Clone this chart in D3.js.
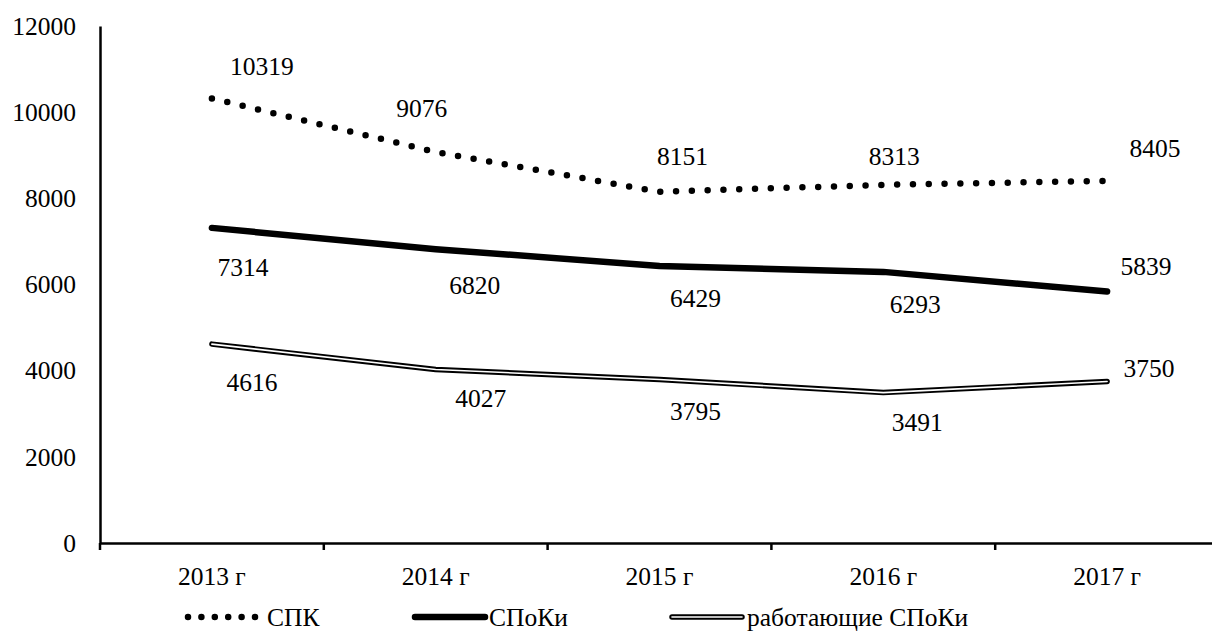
<!DOCTYPE html>
<html>
<head>
<meta charset="utf-8">
<script src="https://cdn.jsdelivr.net/npm/d3@7"></script>
<style>
  html, body { margin: 0; padding: 0; background: #fff; }
  svg { display: block; }
  text { font-family: "Liberation Serif", "Times New Roman", serif; font-size: 25.5px; fill: #000; }
</style>
</head>
<body>
<svg id="chart" width="1212" height="633"></svg>
<script>
// Categories and series values
const years = ["2013 г", "2014 г", "2015 г", "2016 г", "2017 г"];
const spk = [10319, 9076, 8151, 8313, 8405];
const spoki = [7314, 6820, 6429, 6293, 5839];
const workingSpoki = [4616, 4027, 3795, 3491, 3750];
const yTicks = [0, 2000, 4000, 6000, 8000, 10000, 12000];
const seriesNames = ["СПК", "СПоКи", "работающие СПоКи"];

// Data-label offsets from each point (layout only)
const labelOffsets = [
  [[50, -32], [-14, -44], [23, -36], [11, -29], [48, -33]],
  [[31, 39], [39, 36], [36, 32], [32, 32], [39, -25]],
  [[40, 38], [45, 28.5], [36, 31.5], [34, 29], [42, -13.5]]
];

const svg = d3.select("#chart");

const x = d3.scaleBand().domain(years).range([100, 1219]).paddingInner(0).paddingOuter(0);
const y = d3.scaleLinear().domain([0, 12000]).range([543, 26]);
const cx = i => x(years[i]) + x.bandwidth() / 2;

// Y axis
const yAxis = svg.append("g")
  .attr("transform", "translate(100,0)")
  .call(d3.axisLeft(y).tickValues(yTicks).tickFormat(d3.format("d")).tickSize(0).tickPadding(24));
yAxis.select(".domain").attr("stroke", "#000").attr("stroke-width", 2.5);
yAxis.selectAll("text").attr("font-family", null).attr("font-size", null);

// X axis with labels centered in each band
const xAxis = svg.append("g")
  .attr("transform", "translate(0,543)")
  .call(d3.axisBottom(x).tickSize(0).tickSizeOuter(0).tickPadding(24));
xAxis.select(".domain").attr("stroke", "#000").attr("stroke-width", 2.5);
xAxis.selectAll("text").attr("font-family", null).attr("font-size", null);

// Tick marks at band boundaries
const boundaries = years.map(d => x(d)).concat([x(years[years.length - 1]) + x.bandwidth()]);
svg.append("g").selectAll("line").data(boundaries).join("line")
  .attr("x1", d => d).attr("x2", d => d)
  .attr("y1", 543).attr("y2", 550)
  .attr("stroke", "#000").attr("stroke-width", 2.5);

const line = d3.line().x((d, i) => cx(i)).y(d => y(d));

// СПК: round dotted line
svg.append("path").datum(spk)
  .attr("d", line).attr("fill", "none")
  .attr("stroke", "#000").attr("stroke-width", 6.5)
  .attr("stroke-linecap", "round").attr("stroke-dasharray", "0 15.8");

// СПоКи: heavy solid line
svg.append("path").datum(spoki)
  .attr("d", line).attr("fill", "none")
  .attr("stroke", "#000").attr("stroke-width", 6.5)
  .attr("stroke-linecap", "round").attr("stroke-linejoin", "round");

// работающие СПоКи: double line (black outline, white core)
svg.append("path").datum(workingSpoki)
  .attr("d", line).attr("fill", "none")
  .attr("stroke", "#000").attr("stroke-width", 5.5)
  .attr("stroke-linecap", "round").attr("stroke-linejoin", "round");
svg.append("path").datum(workingSpoki)
  .attr("d", line).attr("fill", "none")
  .attr("stroke", "#fff").attr("stroke-width", 1.6)
  .attr("stroke-linecap", "round").attr("stroke-linejoin", "round");

// Data labels
[spk, spoki, workingSpoki].forEach((series, s) => {
  svg.append("g").selectAll("text").data(series).join("text")
    .attr("x", (d, i) => cx(i) + labelOffsets[s][i][0])
    .attr("y", (d, i) => y(d) + labelOffsets[s][i][1])
    .attr("dy", "0.35em")
    .attr("text-anchor", "middle")
    .text(d => d);
});

// Legend
const legendY = 617;
const legendItems = [
  { x1: 188, x2: 255, tx: 267, style: "dots" },
  { x1: 415, x2: 485, tx: 489, style: "solid" },
  { x1: 672, x2: 742, tx: 747, style: "double" }
];
const lg = svg.append("g");
legendItems.forEach((it, k) => {
  if (it.style === "dots") {
    lg.append("line").attr("x1", it.x1).attr("x2", it.x2).attr("y1", legendY).attr("y2", legendY)
      .attr("stroke", "#000").attr("stroke-width", 6.5).attr("stroke-linecap", "round")
      .attr("stroke-dasharray", "0 13.4");
  } else if (it.style === "solid") {
    lg.append("line").attr("x1", it.x1).attr("x2", it.x2).attr("y1", legendY).attr("y2", legendY)
      .attr("stroke", "#000").attr("stroke-width", 6.5).attr("stroke-linecap", "round");
  } else {
    lg.append("line").attr("x1", it.x1).attr("x2", it.x2).attr("y1", legendY).attr("y2", legendY)
      .attr("stroke", "#000").attr("stroke-width", 5.5).attr("stroke-linecap", "round");
    lg.append("line").attr("x1", it.x1).attr("x2", it.x2).attr("y1", legendY).attr("y2", legendY)
      .attr("stroke", "#fff").attr("stroke-width", 1.6).attr("stroke-linecap", "round");
  }
  lg.append("text").attr("x", it.tx).attr("y", legendY).attr("dy", "0.35em").text(seriesNames[k]);
});
</script>
</body>
</html>
